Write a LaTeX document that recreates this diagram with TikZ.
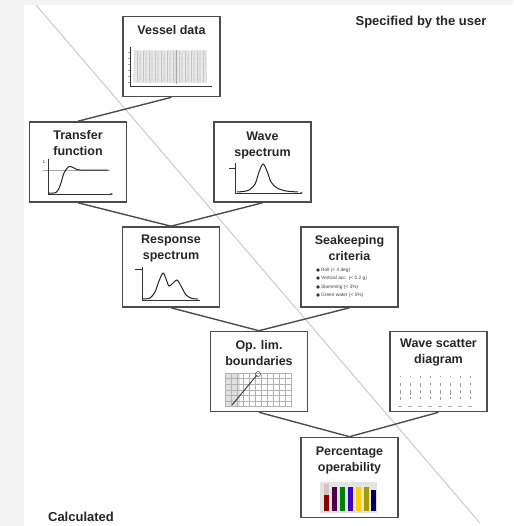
\documentclass[tikz,border=0pt]{standalone}
\usepackage{fontspec}
\setmainfont{Liberation Sans}
\usetikzlibrary{arrows.meta}
\begin{document}
\begin{tikzpicture}[x=1pt,y=-1pt,
  box/.style={draw=black!70, line width=1.6pt, fill=white, minimum width=97pt, minimum height=80pt, inner sep=0pt},
  ttl/.style={font=\bfseries\fontsize{12.5}{16}\selectfont, align=center, inner sep=0pt, text=black!85},
  lbl/.style={font=\bfseries\fontsize{13}{16}\selectfont, inner sep=0pt, text=black!85},
  conn/.style={draw=black!70, line width=1.4pt},
  axis/.style={draw=black!80, line width=0.9pt},
  curve/.style={draw=black!85, line width=1pt},
  tiny/.style={font=\fontsize{4.8}{5}\selectfont, inner sep=0pt, anchor=west, text=black!75}]
\useasboundingbox (0,0) rectangle (513,526);
\fill[blue!4!gray!8] (0,0) rectangle (513,526);
\fill[white] (24,5) rectangle (513,526);
% diagonal
\draw[gray!40, line width=1pt] (36,5) -- (480,523);

% boxes
\node[box] (vd) at (171.5,56.5) {};
\node[box] (tf) at (78,162) {};
\node[box] (ws) at (262.5,162) {};
\node[box] (rs) at (171,267) {};
\node[box] (sc) at (349.5,267) {};
\node[box] (ol) at (259,371.5) {};
\node[box] (wsd) at (438.5,371.5) {};
\node[box] (po) at (349.5,477.5) {};

% connectors
\draw[conn] (vd.south) -- (tf.north);
\draw[conn] (tf.south) -- (rs.north);
\draw[conn] (ws.south) -- (rs.north);
\draw[conn] (rs.south) -- (ol.north);
\draw[conn] (sc.south) -- (ol.north);
\draw[conn] (ol.south) -- (po.north);
\draw[conn] (wsd.south) -- (po.north);

% titles
\node[ttl] (vdt) at (171.5,30) {Vessel data};
\node[ttl] (tft) at (78,143) {Transfer\\function};
\node[ttl] (wst) at (262.5,145) {Wave\\spectrum};
\node[ttl] (rst) at (171,248) {Response\\spectrum};
\node[ttl] (sct) at (349.5,248) {Seakeeping\\criteria};
\node[ttl] (olt) at (259,353) {Op. lim.\\boundaries};
\node[ttl] (wsdt) at (438.5,353) {Wave scatter\\diagram};
\node[ttl] (pot) at (349.5,460) {Percentage\\operability};

\node[lbl] (spec) at (421,22) {Specified by the user};
\node[lbl] (calc) at (81,517) {Calculated};

% vessel data graphic
\fill[gray!18] (134,50) rectangle (207,83);
\foreach \i in {0,...,35} {\draw[gray!45, line width=0.3pt] ({135+2*\i},51) -- ({135+2*\i+(mod(\i,3)-1)*1.5},82);}
\draw[gray!70, line width=0.6pt] (176,50) -- (176,84);
\draw[axis] (130,47) -- (130,86) -- (212,86);
\foreach \yy in {52,58,64,70,76,82} {\draw[gray!70, line width=0.3pt] (128,\yy) -- (130,\yy);}

% transfer function graphic
\draw[gray!70, line width=0.5pt] (43,170) -- (110,170);
\draw[axis,-{Stealth[length=3pt]}] (48,159) -- (48,194) -- (113,194);
\draw[curve] plot[smooth] coordinates {(48,193)(56,192.5)(60,186)(64,173)(69,166.5)(74,168)(80,170)(108,170)};
\node[font=\fontsize{4}{4}\selectfont, inner sep=0pt] (tf1) at (44,162) {1};

% wave spectrum graphic
\draw[axis,-{Stealth[length=3pt]}] (235,163) -- (235,193) -- (303,193);
\draw[axis] (229,168) -- (235,168);
\draw[curve] plot[smooth] coordinates {(237,192)(248,190.5)(255,184)(259,172)(263,164)(267,171)(271,182)(277,188)(286,191)(298,192)};

% response spectrum graphic
\draw[axis] (142,267) -- (142,300) -- (200,300);
\draw[axis] (135,269) -- (142,269);
\draw[curve] plot[smooth] coordinates {(143,299)(150,298)(155,292)(159,281)(163,273)(166,279)(169,286)(173,283)(177,280)(181,286)(186,295)(192,298.5)(198,299)};

% seakeeping criteria list
\foreach \yy/\tx in {270/Roll (< 4 deg), 278/Vertical acc. (< 0.2 g), 287/Slamming (< 3\%), 295/Green water (< 5\%)} {
  \fill[black!80] (318,\yy) circle (1.8pt);
  \node[tiny] at (321,\yy) {\tx};
}

% op lim boundaries graphic
\fill[gray!25] (225,373) rectangle (240,407);
\foreach \i in {0,...,11} {\draw[gray!60, line width=0.4pt] ({225+6*\i},373) -- ({225+6*\i},407);}
\foreach \j in {0,...,6} {\draw[gray!60, line width=0.4pt] (225,{373+5.6*\j}) -- (291,{373+5.6*\j});}
\draw[black!80, line width=0.9pt] (232,405) -- (257,375);
\draw[black!70, line width=0.5pt] (258,374) circle (2.5pt);

% wave scatter diagram graphic
\foreach \i in {0,...,7} {
  \foreach \j/\l in {0/2,1/4,2/5,3/3} {
    \draw[gray!80, line width=0.9pt] ({400+10*\i},{376+7*\j}) -- ({400+10*\i},{376+7*\j+\l*(0.6+0.1*mod(\i+\j,4))});
  }
  \draw[gray!65, line width=0.8pt] ({398+10*\i},406) -- ({402+10*\i},406);
}

% percentage operability graphic
\fill[gray!22] (320,482) rectangle (377,513);
\foreach \xx/\cc in {324/red!55!black, 332/violet!60!black, 340/green!50!black, 348/blue!50!violet, 356/yellow!70!orange, 364/olive!80!yellow, 371/blue!40!black} {
  \fill[\cc] (\xx,{487+mod(\xx,4)}) rectangle ({\xx+5},511);
}
\fill[red!20!gray!40] (324,484) rectangle (329,495);
\end{tikzpicture}
\end{document}
